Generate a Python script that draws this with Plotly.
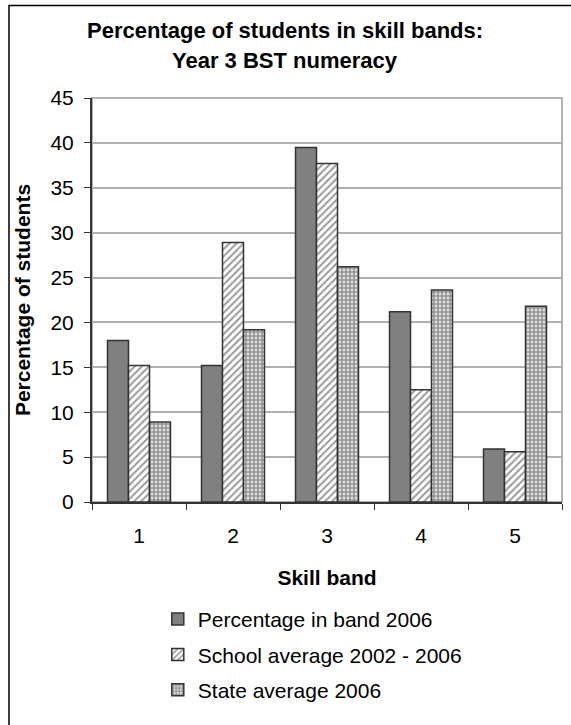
import plotly.graph_objects as go

# Skill bands on the category axis
bands = ["1", "2", "3", "4", "5"]

# Percentage of students per band
pct_2006 = [18.0, 15.2, 39.5, 21.2, 5.9]
school_avg = [15.2, 28.9, 37.7, 12.5, 5.6]
state_avg = [8.9, 19.2, 26.2, 23.6, 21.8]

series_names = [
    "Percentage in band 2006",
    "School average 2002 - 2006",
    "State average 2006",
]

title_lines = ["Percentage of students in skill bands:", "Year 3 BST numeracy"]

y_ticks = list(range(0, 50, 5))

FONT = "Liberation Sans, Arial, sans-serif"
EDGE = "#333333"
FS = 21

fig = go.Figure()

fig.add_trace(go.Bar(
    x=bands, y=pct_2006, name=series_names[0], legendgroup="a",
    marker=dict(color="#808080", line=dict(color=EDGE, width=1.5)),
))
fig.add_trace(go.Bar(
    x=bands, y=school_avg, name=series_names[1], legendgroup="b",
    marker=dict(
        color="white", line=dict(color=EDGE, width=1.5),
        pattern=dict(shape="/", fgcolor=EDGE, bgcolor="white",
                     size=5, solidity=0.4, fillmode="overlay"),
    ),
))
fig.add_trace(go.Bar(
    x=bands, y=state_avg, name=series_names[2], legendgroup="c",
    marker=dict(
        color="white", line=dict(color=EDGE, width=1.5),
        pattern=dict(shape=".", fgcolor="#2a2a2a", bgcolor="white",
                     size=4, solidity=0.75, fillmode="overlay"),
    ),
))

# two-line chart heading
annotations = [
    dict(text=f"<b>{title_lines[0]}</b>", xref="paper", yref="paper",
         x=0.41, y=1.168, xanchor="center", yanchor="middle", showarrow=False,
         font=dict(family=FONT, size=22, color="black")),
    dict(text=f"<b>{title_lines[1]}</b>", xref="paper", yref="paper",
         x=0.41, y=1.094, xanchor="center", yanchor="middle", showarrow=False,
         font=dict(family=FONT, size=22, color="black")),
]

fig.update_layout(
    width=571, height=725,
    margin=dict(l=92, r=9, t=98, b=223),
    paper_bgcolor="white", plot_bgcolor="white",
    font=dict(family=FONT, size=FS, color="black"),
    barmode="group", bargap=0.33, bargroupgap=0,
    showlegend=True,
    annotations=annotations,
    legend=dict(
        x=0.14, xanchor="left", y=-0.24, yanchor="top",
        orientation="v", tracegroupgap=5,
        font=dict(family=FONT, size=FS, color="black"),
        bgcolor="rgba(0,0,0,0)",
    ),
    xaxis=dict(
        title=dict(text="<b>Skill band</b>", font=dict(size=FS), standoff=24),
        showline=True, linecolor="#333333", linewidth=2,
        ticks="outside", ticklen=6, tickcolor="#333333",
        tickson="boundaries", showgrid=False, ticklabelstandoff=14,
    ),
    yaxis=dict(
        title=dict(text="<b>Percentage of students</b>", font=dict(size=FS), standoff=14),
        range=[0, 45], tickvals=y_ticks,
        showline=True, linecolor="#333333", linewidth=2,
        ticks="outside", ticklen=6, tickcolor="#333333",
        showgrid=True, gridcolor="#b0b0b0", gridwidth=1.5,
        zeroline=False, ticklabelstandoff=6,
    ),
    shapes=[
        # plot area frame (top and right edges)
        dict(type="rect", xref="paper", yref="paper", x0=0, x1=1, y0=0, y1=1,
             line=dict(color="#999999", width=1.5), layer="below"),
        # outer chart frame
        dict(type="rect", xref="paper", yref="paper",
             x0=-0.1766, x1=1.05, y0=-0.57, y1=1.229,
             line=dict(color="black", width=1.5)),
    ],
)

fig.write_html("out.html")
